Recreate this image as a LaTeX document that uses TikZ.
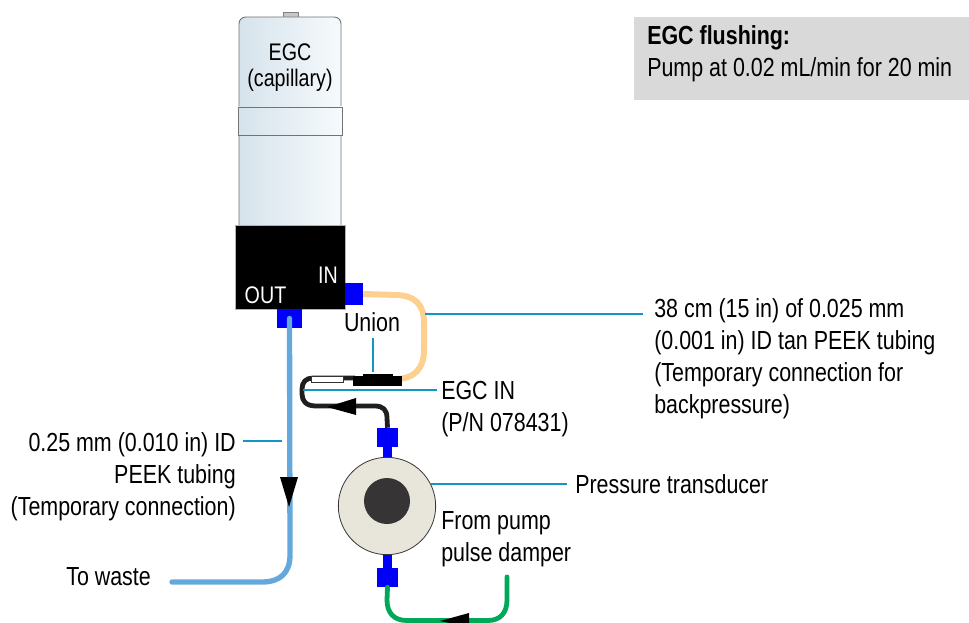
\documentclass[tikz,border=0pt]{standalone}
\usepackage{fontspec}
\setmainfont[FakeStretch=0.82]{Liberation Sans}
\usepackage{tikz}
\usetikzlibrary{arrows.meta,positioning,calc}
\definecolor{fitblue}{RGB}{0,0,250}
\definecolor{wastecol}{RGB}{100,168,220}
\definecolor{tancol}{RGB}{253,208,144}
\definecolor{pumpcol}{RGB}{0,168,90}
\definecolor{leadcol}{RGB}{20,150,196}
\definecolor{creamcol}{RGB}{232,230,218}
\definecolor{darkcol}{RGB}{54,52,53}
\definecolor{notegrey}{RGB}{217,217,217}
\definecolor{capleft}{RGB}{214,227,236}
\definecolor{capright}{RGB}{246,250,252}
\tikzset{
  lbl/.style={inner sep=0pt,font=\fontsize{19.6}{24}\selectfont,align=left},
  taglbl/.style={inner sep=0pt,font=\fontsize{18}{19.5}\selectfont,align=center},
  fitting/.style={draw=none,fill=fitblue,inner sep=0pt},
  tube/.style={line width=#1,line join=round},
  leader/.style={draw=leadcol,line width=2pt},
  flow/.style={fill=black,draw=none},
  capbody/.style={draw=black!55,line width=.7pt,left color=capleft,right color=capright},
}
\begin{document}
\begin{tikzpicture}[x=0.75pt,y=-0.75pt]
  \useasboundingbox (0,0) rectangle (969,623);
  % note box
  \node[fill=notegrey,anchor=north west,minimum width=251.25pt,minimum height=62.25pt] (notebox) at (634,17) {};
  \node[lbl,anchor=base west] (notehead) at (647,45) {\bfseries EGC flushing:};
  \node[lbl,anchor=base west] (notetext) at (647,77) {Pump at 0.02 mL/min for 20 min};
  % the cartridge
  \draw[draw=black!50,fill=black!22,line width=.6pt] (283,12) rectangle (298,17);
  \draw[capbody,rounded corners=5pt] (239,225) -- (239,17) -- (341,17) -- (341,225);
  \draw[capbody] (238,107) rectangle (342,135);
  \fill[black] (235,225) rectangle (345,309);
  \draw[black!30,line width=.5pt] (235,225) rectangle (345,309);
  \node[taglbl,anchor=base] (egccap) at (290,87) {EGC\\(capillary)};
  \node[taglbl,text=white,anchor=base] (intag) at (328,283) {IN};
  \node[taglbl,text=white,anchor=base] (outtag) at (265.5,303) {OUT};
  % fittings
  \node[fitting,minimum width=13.5pt,minimum height=16.5pt] (fitin) at (354,294) {};
  \node[fitting,minimum width=18.75pt,minimum height=14.25pt] (fitout) at (289.5,318.5) {};
  \node[fitting,minimum width=15.75pt,minimum height=14.25pt] (fitup) at (387.5,437.5) {};
  \node[fitting,minimum width=15.75pt,minimum height=14.25pt] (fitdown) at (387.5,577.5) {};
  % the transducer
  \fill[fitblue] (383,447) rectangle (392,462);
  \fill[fitblue] (383,552) rectangle (392,568);
  \node[circle,draw=darkcol,fill=creamcol,line width=.6pt,minimum size=73pt,inner sep=0pt] (damper) at (387,506) {};
  \node[circle,fill=darkcol,minimum size=34.5pt,inner sep=0pt] (damperhub) at (387,501) {};
  % tubing
  \draw[tube=4pt,wastecol,line cap=round] (fitout.center) -- (290,555)
    .. controls (290,573) and (280,582) .. (262,582) -- (172,582);
  \draw[tube=4.5pt,tancol] (fitin.east) -- (395,295)
    .. controls (415,295) and (424,305) .. (424,322) -- (424,350)
    .. controls (424,368) and (415,379) .. (395,379);
  \draw[tube=3.6pt,black!88] (fitup.north) -- (387,418)
    .. controls (387,410) and (383,406) .. (375,406) -- (316,406)
    .. controls (306,406) and (302,401) .. (302,394) -- (302,389)
    .. controls (302,382) and (306,378) .. (313,378) -- (355,378);
  \draw[tube=3.6pt,pumpcol,line cap=round] (fitdown.south) -- (387,600)
    .. controls (387,613) and (394,620.5) .. (407,620.5) -- (488,620.5)
    .. controls (500,620.5) and (507,613) .. (507,600) -- (507,577);
  % the union
  \fill[black] (353,376) rectangle (402,386);
  \fill[black] (363,374) rectangle (393,377);
  \draw[black!80,fill=white,line width=.7pt] (311,376) rectangle (343,382);
  % flow marks
  \fill[flow] (289,507) -- (280,477) -- (298,477) -- cycle;
  \fill[flow] (327,407) -- (356,398) -- (356,415) -- cycle;
  \fill[flow] (440,621) -- (469,613) -- (469,627) -- cycle;
  % labels
  \node[lbl,anchor=base] (unionlbl) at (372,331) {Union};
  \node[lbl,anchor=base west] (tubelbl) at (654,413) {38 cm (15 in) of 0.025 mm\\(0.001 in) ID tan PEEK tubing\\(Temporary connection for\\backpressure)};
  \node[lbl,anchor=base west] (egcinlbl) at (441,431) {EGC IN\\(P/N 078431)};
  \node[lbl,align=right,anchor=base east] (peeklbl) at (236,515) {0.25 mm (0.010 in) ID\\PEEK tubing\\(Temporary connection)};
  \node[lbl,anchor=base west] (wastelbl) at (66,585) {To waste};
  \node[lbl,anchor=base west] (translbl) at (575,493) {Pressure transducer};
  \node[lbl,anchor=base west] (pumplbl) at (441,561) {From pump\\pulse damper};
  % leader ends
  \coordinate (tancoord) at (425,314);
  \coordinate (tubeend) at (643,314);
  \coordinate (unionend) at (373,372);
  \coordinate (unionstart) at (373,338);
  \coordinate (egcstart) at (437,390);
  \coordinate (egcend) at (303,390);
  \coordinate (peekstart) at (243,441);
  \coordinate (peekend) at (282,441);
  \coordinate (transstart) at (567,484);
  \coordinate (transend) at (431,484);
  \foreach \a/\b in {tubeend/tancoord,unionstart/unionend,egcstart/egcend,
                     peekstart/peekend,transstart/transend}{
    \draw[leader] (\a) -- (\b);}
\end{tikzpicture}
\end{document}
